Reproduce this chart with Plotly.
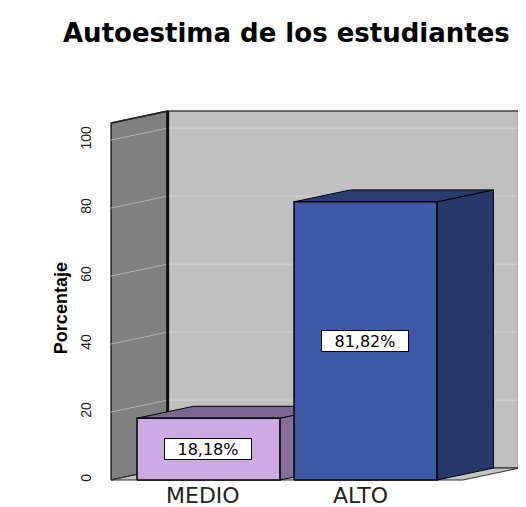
import plotly.graph_objects as go

# ---- data ----
categories = ["MEDIO", "ALTO"]
values = [18.18, 81.82]
value_labels = ["18,18%", "81,82%"]
tick_vals = [0, 20, 40, 60, 80, 100]
tick_text = ["0", "20", "40", "60", "80", "100"]
title_text = "Autoestima de los estudiantes"
y_title = "Porcentaje"

# ---- style ----
front_colors = ["#CFA9E2", "#3D59A7"]
side_colors = ["#8A6E98", "#27386B"]
top_colors = ["#7D6690", "#2B3C73"]
W = 0.91        # bar width (category units)
DX = 0.36       # depth offset x (category units)
DY = 3.5        # depth offset y (value units)
XL, XR = -0.62, 1.62
YTOP = 105

fig = go.Figure()


def poly(xs, ys, fill, line="black", lw=1):
    fig.add_trace(go.Scatter(
        x=list(xs) + [xs[0]], y=list(ys) + [ys[0]], mode="lines",
        fill="toself", fillcolor=fill, line=dict(color=line, width=lw),
        hoverinfo="skip", showlegend=False))


def seg(xs, ys, color, lw=1):
    fig.add_trace(go.Scatter(
        x=xs, y=ys, mode="lines", line=dict(color=color, width=lw),
        hoverinfo="skip", showlegend=False))


# back wall
poly([XL + DX, XR + DX, XR + DX, XL + DX],
     [DY, DY, YTOP + DY, YTOP + DY], "#C0C0C0", "#404040", 1.5)
# left wall
poly([XL, XL + DX, XL + DX, XL], [0, DY, YTOP + DY, YTOP], "#808080", "#202020", 1.5)

# gridlines
for v in tick_vals[1:]:
    seg([XL + DX, XR + DX], [v + DY, v + DY], "#D2D2D2", 1)
    seg([XL, XL + DX], [v, v + DY], "#B4B4B4", 1)

# floor
poly([XL, XR, XR + DX, XL + DX], [0, 0, DY, DY], "#C4C4C4", "#303030", 1)

# thick edges
seg([XL + DX, XL + DX], [DY, YTOP + DY], "#111111", 3)
seg([XR + DX, XR + DX], [DY, YTOP + DY], "#3A3A3A", 3)
seg([XL, XL + DX], [YTOP, YTOP + DY], "#222222", 1.5)

# bars
for i, (cat, v) in enumerate(zip(categories, values)):
    x0, x1 = i - W / 2, i + W / 2
    # side face
    poly([x1, x1 + DX, x1 + DX, x1], [0, DY, v + DY, v], side_colors[i], "black", 1)
    # top face
    poly([x0, x0 + DX, x1 + DX, x1], [v, v + DY, v + DY, v], top_colors[i], "black", 1)
    # front face
    poly([x0, x1, x1, x0], [0, 0, v, v], front_colors[i], "black", 1.5)

annotations = []
for i, (v, lab) in enumerate(zip(values, value_labels)):
    annotations.append(dict(
        x=i, y=v / 2, xref="x", yref="y", text=lab, showarrow=False,
        font=dict(family="DejaVu Sans", size=16, color="black"),
        bgcolor="white", bordercolor="black", borderwidth=1, borderpad=1,
        width=84, height=18))
for i, cat in enumerate(categories):
    annotations.append(dict(
        x=i, y=0, xref="x", yref="y", text=cat, showarrow=False,
        yanchor="middle", yshift=-15, xshift=-5,
        font=dict(family="DejaVu Sans", size=22, color="#222222")))

annotations.append(dict(
    x=0.432, y=1.174, xref="paper", yref="paper", text="<b>" + title_text + "</b>",
    showarrow=False, xanchor="center", yanchor="middle",
    font=dict(family="DejaVu Sans", size=26, color="black")))
annotations.append(dict(
    x=-0.1135, y=0.458, xref="paper", yref="paper", text="<b>" + y_title + "</b>",
    showarrow=False, textangle=-90, xanchor="center", yanchor="middle",
    font=dict(family="Liberation Sans", size=18, color="black")))

# page body adds an 8px offset; size the figure so it ends at the window edge
fig.update_layout(
    width=518, height=499,
    margin=dict(l=100, r=4, t=92, b=23),
    paper_bgcolor="white", plot_bgcolor="white",
    showlegend=False,
    annotations=annotations,
    xaxis=dict(range=[-0.640, 1.997], showgrid=False, zeroline=False,
               showticklabels=False, showline=False, ticks=""),
    yaxis=dict(range=[-1.176, 111.76], showgrid=False, zeroline=False,
               showline=False, tickvals=tick_vals, ticktext=tick_text,
               ticks="outside", ticklen=10, tickcolor="rgba(0,0,0,0)",
               tickangle=-90,
               tickfont=dict(family="Liberation Sans", size=14, color="#222222")),
)

fig.write_html("out.html")
